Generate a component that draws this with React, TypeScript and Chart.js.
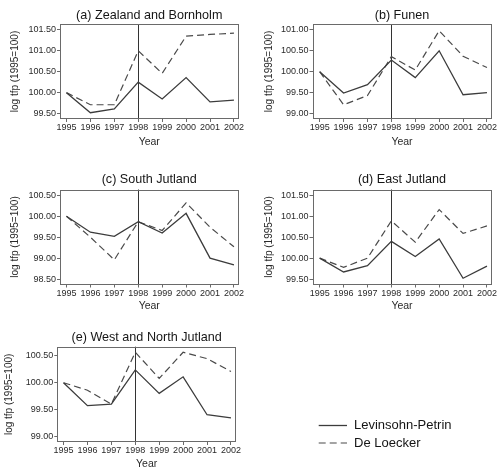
import React, { useEffect, useRef } from "react";
import { Chart, registerables } from "chart.js";

Chart.register(...registerables);

// ---------- data ----------
const years = [1995, 1996, 1997, 1998, 1999, 2000, 2001, 2002];
const breakYear = 1998;
const seriesNames = ["Levinsohn-Petrin", "De Loecker"];
const panelTitles = [
  "(a) Zealand and Bornholm",
  "(b) Funen",
  "(c) South Jutland",
  "(d) East Jutland",
  "(e) West and North Jutland",
];
const yAxisTitle = "log tfp (1995=100)";
const xAxisTitle = "Year";

const lpZealand = [100, 99.52, 99.61, 100.25, 99.85, 100.36, 99.78, 99.82];
const dlZealand = [100, 99.71, 99.71, 101.0, 100.46, 101.35, 101.39, 101.42];
const lpFunen = [100, 99.49, 99.69, 100.28, 99.86, 100.5, 99.45, 99.5];
const dlFunen = [100, 99.21, 99.43, 100.36, 100.04, 100.98, 100.37, 100.1];
const lpSouth = [100, 99.62, 99.52, 99.87, 99.6, 100.07, 99.0, 98.84];
const dlSouth = [100, 99.5, 98.96, 99.87, 99.66, 100.32, 99.74, 99.27];
const lpEast = [100, 99.67, 99.82, 100.4, 100.04, 100.46, 99.52, 99.81];
const dlEast = [100, 99.78, 100.0, 100.89, 100.38, 101.16, 100.59, 100.77];
const lpWest = [100, 99.57, 99.6, 100.24, 99.8, 100.11, 99.4, 99.34];
const dlWest = [100, 99.86, 99.6, 100.57, 100.08, 100.57, 100.45, 100.21];

const yTicksZealand = [99.5, 100.0, 100.5, 101.0, 101.5];
const yTicksFunen = [99.0, 99.5, 100.0, 100.5, 101.0];
const yTicksSouth = [98.5, 99.0, 99.5, 100.0, 100.5];
const yTicksEast = [99.5, 100.0, 100.5, 101.0, 101.5];
const yTicksWest = [99.0, 99.5, 100.0, 100.5];

// ---------- styling / layout ----------
const FONT = "'Liberation Sans', Arial, Helvetica, sans-serif";
const TITLE_SIZE = 12.6;
const TICK_SIZE = 9;
const AXIS_TITLE_SIZE = 10;
const YEAR_SIZE = 10.5;
const LINE_COLOR = "#3c3c3c";
const DASH_COLOR = "#4a4a4a";
const FRAME_COLOR = "#6a6a6a";
const TEXT_COLOR = "#2a2a2a";

type PanelCfg = {
  title: string;
  lp: number[];
  dl: number[];
  yTicks: number[];
  box: { x: number; y: number; w: number; h: number };
  area: { l: number; r: number; t: number; b: number };
  titleCY: number;
  yTitleCX: number;
  yearCY: number;
  xRange: [number, number];
  yRange: [number, number];
};

const panels: PanelCfg[] = [
  {
    title: panelTitles[0], lp: lpZealand, dl: dlZealand, yTicks: yTicksZealand,
    box: { x: 0, y: 0, w: 249, h: 150 }, area: { l: 60, r: 238.5, t: 24, b: 119 },
    titleCY: 16, yTitleCX: 15, yearCY: 142, xRange: [1994.73, 2002.19], yRange: [99.37, 101.64],
  },
  {
    title: panelTitles[1], lp: lpFunen, dl: dlFunen, yTicks: yTicksFunen,
    box: { x: 249, y: 0, w: 249, h: 150 }, area: { l: 312.5, r: 491.5, t: 24, b: 119 },
    titleCY: 16, yTitleCX: 269, yearCY: 142, xRange: [1994.7, 2002.19], yRange: [98.87, 101.14],
  },
  {
    title: panelTitles[2], lp: lpSouth, dl: dlSouth, yTicks: yTicksSouth,
    box: { x: 0, y: 158, w: 249, h: 157 }, area: { l: 60, r: 238.5, t: 189.5, b: 284.5 },
    titleCY: 180, yTitleCX: 15, yearCY: 306, xRange: [1994.73, 2002.19], yRange: [98.37, 100.64],
  },
  {
    title: panelTitles[3], lp: lpEast, dl: dlEast, yTicks: yTicksEast,
    box: { x: 249, y: 158, w: 249, h: 157 }, area: { l: 312.5, r: 491.5, t: 189.5, b: 284.5 },
    titleCY: 180, yTitleCX: 269, yearCY: 306, xRange: [1994.7, 2002.19], yRange: [99.37, 101.64],
  },
  {
    title: panelTitles[4], lp: lpWest, dl: dlWest, yTicks: yTicksWest,
    box: { x: 0, y: 318, w: 249, h: 160 }, area: { l: 57.3, r: 236, t: 346.7, b: 442 },
    titleCY: 337.5, yTitleCX: 9.3, yearCY: 463.7, xRange: [1994.74, 2002.21], yRange: [98.89, 100.674],
  },
];

const framePlugin = {
  id: "frameAndBreak",
  beforeDatasetsDraw(chart: any) {
    const { ctx, chartArea, scales } = chart;
    const px = Math.round(scales.x.getPixelForValue(breakYear)) + 0.5;
    ctx.save();
    ctx.strokeStyle = "#333333";
    ctx.lineWidth = 1;
    ctx.beginPath();
    ctx.moveTo(px, chartArea.top);
    ctx.lineTo(px, chartArea.bottom);
    ctx.stroke();
    ctx.restore();
  },
  afterDraw(chart: any) {
    const { ctx, chartArea } = chart;
    const l = Math.round(chartArea.left) + 0.5;
    const t = Math.round(chartArea.top) + 0.5;
    const r = Math.round(chartArea.right) - 0.5;
    const b = Math.round(chartArea.bottom) - 0.5;
    ctx.save();
    ctx.strokeStyle = FRAME_COLOR;
    ctx.lineWidth = 1;
    ctx.strokeRect(l, t, r - l, b - t);
    ctx.restore();
  },
};

function Panel({ p }: { p: PanelCfg }) {
  const ref = useRef<HTMLCanvasElement>(null);
  useEffect(() => {
    if (!ref.current) return;
    const { box, area } = p;
    const titleLH = TITLE_SIZE * 1.2;
    const titlePadTop = p.titleCY - box.y - titleLH / 2;
    const titlePadBottom = area.t - box.y - titlePadTop - titleLH;
    const yAxisW = area.l - box.x;
    const xAxisH = box.y + box.h - area.b;
    const yTitleLH = AXIS_TITLE_SIZE * 1.2;
    const yTitlePad = p.yTitleCX - box.x - yTitleLH / 2;
    const yearLH = YEAR_SIZE * 1.2;
    const yearPadBottom = box.y + box.h - p.yearCY - yearLH / 2;

    const chart = new Chart(ref.current, {
      type: "line",
      data: {
        datasets: [
          {
            label: seriesNames[0],
            data: years.map((x, i) => ({ x, y: p.lp[i] })),
            borderColor: LINE_COLOR,
            borderWidth: 1.3,
            pointRadius: 0,
            fill: false,
            tension: 0,
          },
          {
            label: seriesNames[1],
            data: years.map((x, i) => ({ x, y: p.dl[i] })),
            borderColor: DASH_COLOR,
            borderWidth: 1.2,
            borderDash: [7, 4],
            pointRadius: 0,
            fill: false,
            tension: 0,
          },
        ],
      },
      options: {
        responsive: false,
        animation: false,
        events: [],
        devicePixelRatio: 1,
        layout: {
          autoPadding: false,
          padding: { left: 0, top: 0, right: box.x + box.w - area.r, bottom: 0 },
        },
        plugins: {
          legend: { display: false },
          tooltip: { enabled: false },
          title: {
            display: true,
            text: p.title,
            fullSize: false,
            color: "#151515",
            font: { family: FONT, size: TITLE_SIZE, weight: "normal", lineHeight: 1.2 },
            padding: { top: titlePadTop, bottom: titlePadBottom },
          },
        },
        scales: {
          x: {
            type: "linear",
            min: p.xRange[0],
            max: p.xRange[1],
            afterFit: (s: any) => { s.height = xAxisH; },
            afterBuildTicks: (s: any) => { s.ticks = years.map((v) => ({ value: v })); },
            ticks: {
              autoSkip: false,
              maxRotation: 0,
              padding: 0.5,
              color: TEXT_COLOR,
              font: { family: FONT, size: TICK_SIZE },
              callback: (v: any) => String(v),
            },
            grid: { display: true, drawOnChartArea: false, drawTicks: true, tickLength: 3, color: FRAME_COLOR },
            border: { display: false },
            title: {
              display: true,
              text: xAxisTitle,
              color: TEXT_COLOR,
              font: { family: FONT, size: YEAR_SIZE, lineHeight: 1.2 },
              padding: { top: 0, bottom: yearPadBottom },
            },
          },
          y: {
            type: "linear",
            min: p.yRange[0],
            max: p.yRange[1],
            afterFit: (s: any) => { s.width = yAxisW; },
            afterBuildTicks: (s: any) => { s.ticks = p.yTicks.map((v) => ({ value: v })); },
            ticks: {
              autoSkip: false,
              padding: 1,
              color: TEXT_COLOR,
              font: { family: FONT, size: TICK_SIZE },
              callback: (v: any) => Number(v).toFixed(2),
            },
            grid: { display: true, drawOnChartArea: false, drawTicks: true, tickLength: 3, color: FRAME_COLOR },
            border: { display: false },
            title: {
              display: true,
              text: yAxisTitle,
              color: TEXT_COLOR,
              font: { family: FONT, size: AXIS_TITLE_SIZE, lineHeight: 1.2 },
              padding: { top: yTitlePad, bottom: 0 },
            },
          },
        },
      } as any,
      plugins: [framePlugin],
    });
    return () => chart.destroy();
  }, [p]);

  return (
    <canvas
      ref={ref}
      width={p.box.w}
      height={p.box.h}
      style={{ position: "absolute", left: p.box.x, top: p.box.y, width: p.box.w, height: p.box.h }}
    />
  );
}

function Legend() {
  const textStyle: React.CSSProperties = {
    position: "absolute",
    left: 354,
    fontFamily: FONT,
    fontSize: 13,
    color: "#151515",
    lineHeight: "16px",
    whiteSpace: "nowrap",
  };
  return (
    <>
      <svg style={{ position: "absolute", left: 0, top: 0 }} width={498} height={467}>
        <line x1={318.7} y1={425.5} x2={347} y2={425.5} stroke={LINE_COLOR} strokeWidth={1.3} />
        <line x1={318.7} y1={443} x2={347} y2={443} stroke={DASH_COLOR} strokeWidth={1.2} strokeDasharray="7,4" />
      </svg>
      <div style={{ ...textStyle, top: 425 - 8 }}>{seriesNames[0]}</div>
      <div style={{ ...textStyle, top: 442.7 - 8 }}>{seriesNames[1]}</div>
    </>
  );
}

export default function App() {
  return (
    <div
      style={{
        position: "absolute",
        left: 0,
        top: 0,
        width: 498,
        height: 467,
        overflow: "hidden",
        background: "#ffffff",
      }}
    >
      {panels.map((p, i) => (
        <Panel key={i} p={p} />
      ))}
      <Legend />
    </div>
  );
}
